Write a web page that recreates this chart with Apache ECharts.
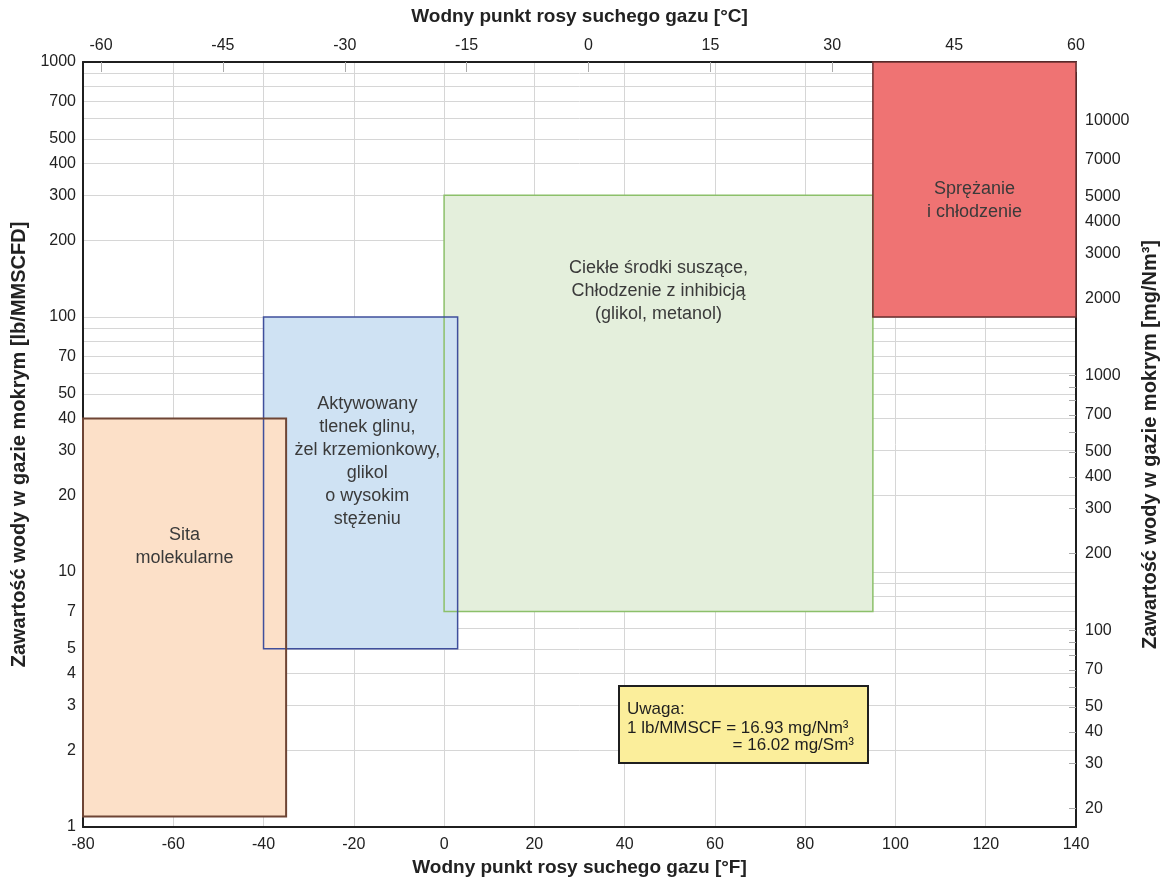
<!DOCTYPE html>
<html>
<head>
<meta charset="utf-8">
<script src="https://cdn.jsdelivr.net/npm/echarts@6/dist/echarts.min.js"></script>
<style>
  html, body { margin: 0; padding: 0; background: #fff; }
  #chart { width: 1161px; height: 878px; }
</style>
</head>
<body>
<div id="chart"></div>
<script>
// dew point ranges (°F) and water content ranges (lb/MMSCFD) for each drying method
const regionNames = ['ciekle', 'sprezanie', 'aktywowany', 'sita']
const regionLabels = [
  'Ciekłe środki suszące,\nChłodzenie z inhibicją\n(glikol, metanol)',
  'Sprężanie\ni chłodzenie',
  'Aktywowany\ntlenek glinu,\nżel krzemionkowy,\nglikol\no wysokim\nstężeniu',
  'Sita\nmolekularne'
]
const regionDewFrom = [0, 95, -40, -80]
const regionDewTo = [95, 140, 3, -35]
const regionWaterFrom = [7, 100, 5, 1.1]
const regionWaterTo = [300, 1000, 100, 40]
// where the label of each region sits (°F, lb/MMSCFD)
const regionLabelDew = [47.5, 117.5, -17, -57.5]
const regionLabelWater = [126, 285, 27, 12.6]

// axis ticks
const cTicks = [-60, -45, -30, -15, 0, 15, 30, 45, 60]
const lbGrid = [1, 2, 3, 4, 5, 6, 7, 8, 9, 10, 20, 30, 40, 50, 60, 70, 80, 90,
  100, 200, 300, 400, 500, 600, 700, 800, 900, 1000]
const lbLabels = [1, 2, 3, 4, 5, 7, 10, 20, 30, 40, 50, 70, 100, 200, 300, 400, 500, 700, 1000]
const mgTicks = [20, 30, 40, 50, 60, 70, 80, 90, 100, 200, 300, 400, 500, 600, 700, 800, 900,
  1000, 2000, 3000, 4000, 5000, 6000, 7000, 8000, 9000, 10000]
const mgLabels = [20, 30, 40, 50, 70, 100, 200, 300, 400, 500, 700,
  1000, 2000, 3000, 4000, 5000, 7000, 10000]

const LB_TO_MG = 16.93

const fills = ['#e4efdc', '#ef7373', '#cfe2f3', '#fce0c8']
const strokes = ['#8cc06a', '#6a2f2f', '#3f4f9c', '#6e4535']

const font = '"Liberation Sans", Arial, Helvetica, sans-serif'
const textColor = '#222'
const gridColor = '#d6d6d6'
const axisDark = '#1f1f1f'

const regionData = regionNames.map((n, i) => [
  regionDewFrom[i], regionDewTo[i], regionWaterFrom[i], regionWaterTo[i],
  regionLabelDew[i], regionLabelWater[i]
])

const rectOf = (api) => {
  const tl = api.coord([api.value(0), api.value(3)])
  const br = api.coord([api.value(1), api.value(2)])
  return { x: tl[0], y: tl[1], width: br[0] - tl[0], height: br[1] - tl[1] }
}

const chart = echarts.init(document.getElementById('chart'))

const labelFmt = v => String(Math.round(v))
const xNameStyle = { fontSize: 19, fontWeight: 'bold', color: textColor, fontFamily: font }
const yNameStyle = { fontSize: 20, fontWeight: 'bold', color: textColor, fontFamily: font }
const axisLine = { show: true, onZero: false, lineStyle: { color: axisDark, width: 2 } }

chart.setOption({
  animation: false,
  textStyle: { fontFamily: font },
  grid: { left: 83, right: 85, top: 62, bottom: 51, outerBoundsMode: 'none', containLabel: false },
  xAxis: [
    {
      type: 'value',
      position: 'bottom',
      min: -80,
      max: 140,
      interval: 20,
      name: 'Wodny punkt rosy suchego gazu [°F]',
      nameLocation: 'middle',
      nameGap: 30,
      nameTextStyle: xNameStyle,
      axisLine: axisLine,
      axisTick: { show: false },
      axisLabel: { fontSize: 16, color: textColor, margin: 10, fontFamily: font },
      splitLine: { show: true, lineStyle: { color: gridColor, width: 1 } }
    },
    {
      type: 'value',
      position: 'top',
      min: (-80 - 32) / 1.8,
      max: (140 - 32) / 1.8,
      name: 'Wodny punkt rosy suchego gazu [°C]',
      nameLocation: 'middle',
      nameGap: 36,
      nameTextStyle: xNameStyle,
      axisLine: axisLine,
      axisTick: { show: true, inside: true, length: 10, customValues: cTicks, lineStyle: { color: '#aaa' } },
      axisLabel: { fontSize: 16, color: textColor, margin: 8, customValues: cTicks, formatter: labelFmt, fontFamily: font },
      splitLine: { show: false }
    }
  ],
  yAxis: [
    {
      type: 'log',
      logBase: 10,
      position: 'left',
      min: 1,
      max: 1000,
      name: 'Zawartość wody w gazie mokrym [lb/MMSCFD]',
      nameLocation: 'middle',
      nameRotate: 90,
      nameGap: 53,
      nameTextStyle: yNameStyle,
      axisLine: axisLine,
      axisTick: { show: false, customValues: lbGrid },
      axisLabel: { fontSize: 16, color: textColor, margin: 7, customValues: lbLabels, formatter: labelFmt, fontFamily: font },
      splitLine: { show: true, lineStyle: { color: gridColor, width: 1 } }
    },
    {
      type: 'log',
      logBase: 10,
      position: 'right',
      min: 1 * LB_TO_MG,
      max: 1000 * LB_TO_MG,
      name: 'Zawartość wody w gazie mokrym [mg/Nm³]',
      nameLocation: 'middle',
      nameRotate: 90,
      nameGap: 56,
      nameTextStyle: yNameStyle,
      axisLine: axisLine,
      axisTick: { show: true, inside: true, length: 7, customValues: mgTicks, lineStyle: { color: '#aaa' } },
      axisLabel: { fontSize: 16, color: textColor, margin: 9, customValues: mgLabels, formatter: labelFmt, fontFamily: font },
      splitLine: { show: false }
    }
  ],
  series: [
    {
      // region fills
      type: 'custom',
      xAxisIndex: 0,
      yAxisIndex: 0,
      clip: false,
      silent: true,
      encode: { x: [0, 1], y: [2, 3] },
      data: regionData,
      renderItem: (params, api) => ({
        type: 'rect',
        shape: rectOf(api),
        style: { fill: fills[params.dataIndex], stroke: null }
      })
    },
    {
      // region outlines and labels on top of all fills
      type: 'custom',
      xAxisIndex: 0,
      yAxisIndex: 0,
      clip: false,
      silent: true,
      encode: { x: [0, 1], y: [2, 3] },
      data: regionData,
      renderItem: (params, api) => {
        const i = params.dataIndex
        const c = api.coord([api.value(4), api.value(5)])
        return {
          type: 'group',
          children: [
            {
              type: 'rect',
              shape: rectOf(api),
              style: { fill: null, stroke: strokes[i], lineWidth: i === 3 ? 2 : 1.5 }
            },
            {
              type: 'text',
              x: c[0],
              y: c[1],
              style: {
                text: regionLabels[i],
                align: 'center',
                verticalAlign: 'middle',
                fontSize: 18,
                lineHeight: 23,
                fontFamily: font,
                fill: '#3a3a3a'
              }
            }
          ]
        }
      }
    }
  ],
  graphic: [
    {
      type: 'group',
      left: 618,
      top: 685,
      z: 100,
      children: [
        {
          type: 'rect',
          z: 100,
          shape: { x: 0, y: 0, width: 249, height: 77 },
          style: { fill: '#fbee9b', stroke: '#1f1f1f', lineWidth: 2 }
        },
        {
          type: 'text',
          z: 101,
          x: 8,
          y: 14,
          style: {
            text: 'Uwaga:\n1 lb/MMSCF = 16.93 mg/Nm³',
            fontSize: 17,
            lineHeight: 19,
            fontFamily: font,
            fill: '#1f1f1f'
          }
        },
        {
          type: 'text',
          z: 101,
          x: 235,
          y: 51,
          style: {
            text: '= 16.02 mg/Sm³',
            align: 'right',
            fontSize: 17,
            fontFamily: font,
            fill: '#1f1f1f'
          }
        }
      ]
    }
  ]
})
</script>
</body>
</html>
